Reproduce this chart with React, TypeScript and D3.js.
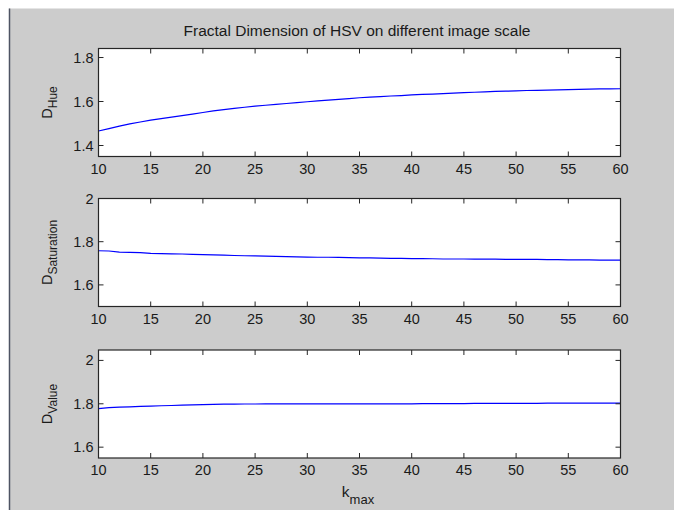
import * as d3 from 'd3';

const kmax = [
  10, 11, 12, 13, 14, 15, 16, 17, 18, 19, 20, 21, 22, 23, 24, 25, 26, 27, 28, 29, 30,
  31, 32, 33, 34, 35, 36, 37, 38, 39, 40, 41, 42, 43, 44, 45, 46, 47, 48, 49, 50,
  51, 52, 53, 54, 55, 56, 57, 58, 59, 60,
];

const hueValues = [
  1.466, 1.477, 1.488, 1.498, 1.507, 1.515, 1.522, 1.529, 1.536, 1.543, 1.55,
  1.557, 1.563, 1.569, 1.574, 1.579, 1.583, 1.587, 1.591, 1.595, 1.599,
  1.603, 1.606, 1.61, 1.613, 1.617, 1.62, 1.622, 1.625, 1.627, 1.63,
  1.632, 1.634, 1.636, 1.638, 1.64, 1.642, 1.644, 1.646, 1.647, 1.648,
  1.65, 1.651, 1.652, 1.653, 1.654, 1.655, 1.656, 1.657, 1.657, 1.658,
];

const saturationValues = [
  1.758, 1.757, 1.752, 1.751, 1.749, 1.746, 1.745, 1.744, 1.743, 1.741, 1.74,
  1.739, 1.738, 1.736, 1.735, 1.734, 1.733, 1.732, 1.731, 1.73, 1.729,
  1.728, 1.728, 1.727, 1.726, 1.725, 1.725, 1.724, 1.723, 1.723, 1.722,
  1.722, 1.721, 1.72, 1.72, 1.72, 1.719, 1.719, 1.719, 1.718, 1.718,
  1.718, 1.718, 1.717, 1.717, 1.716, 1.716, 1.716, 1.715, 1.715, 1.715,
];

const valueValues = [
  1.778, 1.782, 1.785, 1.786, 1.788, 1.789, 1.791, 1.792, 1.794, 1.795, 1.796,
  1.797, 1.798, 1.798, 1.799, 1.799, 1.8, 1.8, 1.8, 1.8, 1.8,
  1.8, 1.8, 1.8, 1.8, 1.8, 1.8, 1.8, 1.8, 1.8, 1.8,
  1.801, 1.801, 1.801, 1.801, 1.801, 1.802, 1.802, 1.802, 1.802, 1.802,
  1.802, 1.802, 1.803, 1.803, 1.803, 1.803, 1.803, 1.803, 1.803, 1.803,
];

const xTicks = [10, 15, 20, 25, 30, 35, 40, 45, 50, 55, 60];
const hueTicks = [1.4, 1.6, 1.8];
const saturationTicks = [1.6, 1.8, 2];
const valueTicks = [1.6, 1.8, 2];

const title = 'Fractal Dimension of HSV on different image scale';

const panels = [
  { sub: 'Hue', values: hueValues, domain: [1.35, 1.841], ticks: hueTicks, top: 48.5 },
  { sub: 'Saturation', values: saturationValues, domain: [1.5, 2], ticks: saturationTicks, top: 198.5 },
  { sub: 'Value', values: valueValues, domain: [1.55, 2.048], ticks: valueTicks, top: 350 },
];

const W = 674;
const H = 510;
const left = 98.5;
const right = 620.5;
const ph = 108;
const tickLen = 5;
const font = 'Arial, "Liberation Sans", Helvetica, sans-serif';

const x = d3.scaleLinear().domain([10, 60]).range([left, right]);

function Panel({ p }: { p: typeof panels[number] }) {
  const y = d3.scaleLinear().domain(p.domain).range([p.top + ph, p.top]);
  const line = d3.line<number>().x((_, i) => x(kmax[i])).y((d) => y(d));
  const bottom = p.top + ph;
  const midY = p.top + ph / 2;
  return (
    <g>
      <rect x={left} y={p.top} width={right - left} height={ph} fill="#fff" />
      <path d={line(p.values) ?? ''} fill="none" stroke="#0000ff" strokeWidth={1.2} />
      {xTicks.map((t) => (
        <g key={'x' + t}>
          <line x1={x(t)} x2={x(t)} y1={bottom} y2={bottom - tickLen} stroke="#262626" />
          <line x1={x(t)} x2={x(t)} y1={p.top} y2={p.top + tickLen} stroke="#262626" />
          <text x={x(t)} y={bottom + 17} textAnchor="middle" fontSize={14.5} fill="#1a1a1a">
            {t}
          </text>
        </g>
      ))}
      {p.ticks.map((t) => (
        <g key={'y' + t}>
          <line x1={left} x2={left + tickLen} y1={y(t)} y2={y(t)} stroke="#262626" />
          <line x1={right} x2={right - tickLen} y1={y(t)} y2={y(t)} stroke="#262626" />
          <text x={left - 5} y={y(t)} dy="0.35em" textAnchor="end" fontSize={14.5} fill="#1a1a1a">
            {t}
          </text>
        </g>
      ))}
      <rect x={left} y={p.top} width={right - left} height={ph} fill="none" stroke="#262626" strokeWidth={1.2} />
      <text transform={`translate(52,${midY}) rotate(-90)`} textAnchor="middle" fontSize={14.5} fill="#1a1a1a">
        D
        <tspan dy={5} fontSize={12}>
          {p.sub}
        </tspan>
      </text>
    </g>
  );
}

export default function App() {
  return (
    <svg
      width={W}
      height={H}
      style={{ position: 'fixed', left: 0, top: 0, fontFamily: font }}
    >
      <rect x={0} y={0} width={W} height={H} fill="#fff" />
      <rect x={9} y={8.5} width={W - 9} height={H - 8.5} fill="#cccccc" />
      <line x1={9.5} x2={9.5} y1={8.5} y2={H} stroke="#4e5463" strokeWidth={1.5} />
      <text x={357} y={35.5} textAnchor="middle" fontSize={15.5} fill="#1a1a1a">
        {title}
      </text>
      {panels.map((p) => (
        <Panel key={p.sub} p={p} />
      ))}
      <text x={358} y={497} textAnchor="middle" fontSize={15.5} fill="#1a1a1a">
        k
        <tspan dy={7} fontSize={13}>
          max
        </tspan>
      </text>
    </svg>
  );
}
